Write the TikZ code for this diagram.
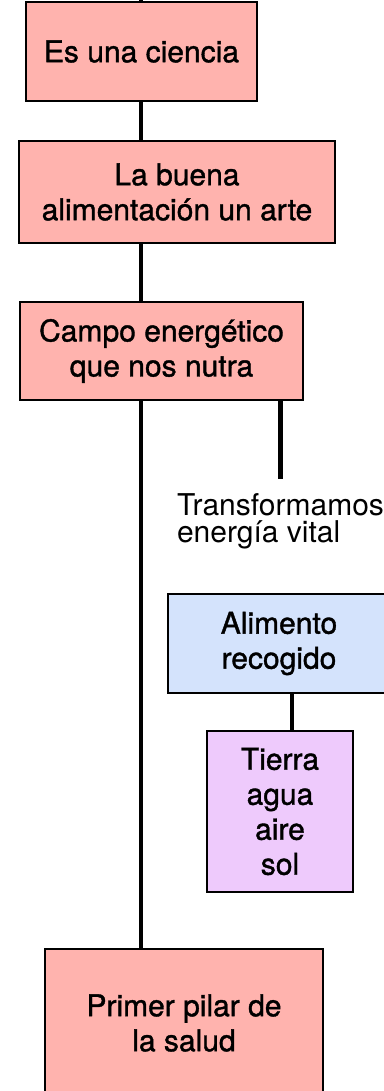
\documentclass[tikz,border=0pt]{standalone}
\usepackage{fontspec}
\setmainfont{TeX Gyre Heros}
\newfontfamily\boxfont[FakeBold=1.2]{TeX Gyre Heros}
\definecolor{pinkfill}{HTML}{FFB3AE}
\definecolor{bluefill}{HTML}{D4E3FC}
\definecolor{violetfill}{HTML}{EECAFC}
\begin{document}
\begin{tikzpicture}
[x=0.5pt,y=-0.5pt,
  boxdecorate/.style={shape=rectangle,draw,line width=1pt,align=center,inner sep=0pt,
    font=\boxfont\fontsize{15pt}{17.5pt}\selectfont},%
  pinkbox/.style={boxdecorate,fill=pinkfill},%
  bluebox/.style={boxdecorate,fill=bluefill},%
  violetbox/.style={boxdecorate,fill=violetfill},%
  linkdecorate/.style={line width=2.4pt}]
\useasboundingbox (0,0) rectangle (384,1091);
\clip (0,0) rectangle (384,1091);
% nodes or boxes
\coordinate (up) at (141,-20);
\node (ciencia) at (141.5,51.5) [pinkbox,minimum width=115.5pt,minimum height=49.5pt] {Es una ciencia};
\node (arte) at (177,192) [pinkbox,minimum width=158pt,minimum height=51pt] {La buena\\alimentación un arte};
\node (campo) at (161.5,351) [pinkbox,minimum width=141.5pt,minimum height=49pt] {Campo energético\\que nos nutra};
\node (transf) at (280.5,479) [anchor=north,align=left,inner xsep=0pt,inner ysep=7pt,
  font=\fontsize{15pt}{13.5pt}\selectfont] {Transformamos\\energía vital};
\node (alimento) at (279,643.5) [bluebox,minimum width=111pt,minimum height=49.5pt] {Alimento\\recogido};
\node (tierra) at (280,811.5) [violetbox,minimum width=73pt,minimum height=80.5pt] {Tierra\\agua\\aire\\sol};
\node (pilar) at (184,1023) [pinkbox,minimum width=139pt,minimum height=74pt] {Primer pilar de\\la salud};
\coordinate (stem) at ([xshift=6.5pt]alimento.south);
% edges or lines
\draw[linkdecorate] (up) -- (ciencia.north -| up);
\draw[linkdecorate] (ciencia.south -| up) -- (arte.north -| up);
\draw[linkdecorate] (arte.south -| up) -- (campo.north -| up);
\draw[linkdecorate] (campo.south -| up) -- (pilar.north -| up);
\draw[linkdecorate] (campo.south -| transf.north) -- (transf.north);
\draw[linkdecorate] (stem) -- (tierra.north -| stem);
\end{tikzpicture}
\end{document}
